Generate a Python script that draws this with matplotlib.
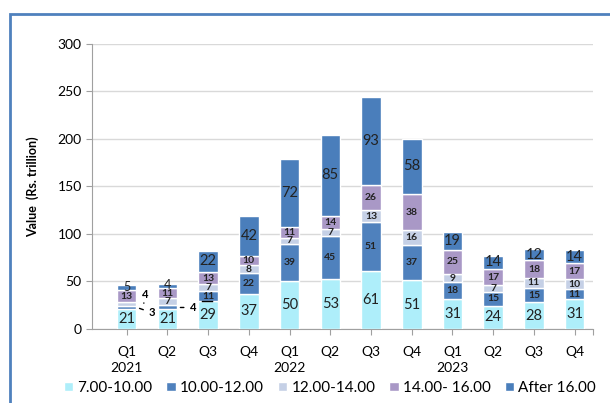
import numpy as np
import matplotlib.pyplot as plt
from matplotlib.patches import Rectangle

plt.rcParams['font.family'] = ['Lato', 'DejaVu Sans']

quarters = ['Q1', 'Q2', 'Q3', 'Q4'] * 3
years = ['2021', '2022', '2023']

# valores por faixa de taxa (Rs. trillion)
r7_10 = [21, 21, 29, 37, 50, 53, 61, 51, 31, 24, 28, 31]
r10_12 = [3, 4, 11, 22, 39, 45, 51, 37, 18, 15, 15, 11]
r12_14 = [4, 7, 7, 8, 7, 7, 13, 16, 9, 7, 11, 10]
r14_16 = [13, 11, 13, 10, 11, 14, 26, 38, 25, 17, 18, 17]
after16 = [5, 4, 22, 42, 72, 85, 93, 58, 19, 14, 12, 14]

series = [r7_10, r10_12, r12_14, r14_16, after16]
names = ['7.00-10.00', '10.00-12.00', '12.00-14.00', '14.00- 16.00', 'After 16.00']
cores = ['#aeeefa', '#4f81bd', '#c5d0e6', '#a998c6', '#4a7ebb']
# rótulos grandes (normal) ou pequenos (negrito)
grande = [True, False, False, False, True]

fig = plt.figure(figsize=(6.1, 4.03), dpi=100)
ax = fig.add_axes([0.151, 0.184, 0.821, 0.707])

x = np.arange(len(quarters))
base = np.zeros(len(quarters))
for vals, nome, cor, g in zip(series, names, cores, grande):
    vals = np.array(vals, dtype=float)
    ax.bar(x, vals, 0.48, bottom=base, color=cor, edgecolor='white',
           linewidth=1.0, label=nome, zorder=3)
    for i, v in enumerate(vals):
        if v < 5 and not (g and i < 2):
            continue  # segmentos muito finos levam rótulo externo
        if g:
            fs = 10.5 if v >= 8 else 9
            ax.text(x[i], base[i] + v / 2 + (1 if v < 8 else 0), '%d' % v,
                    ha='center', va='center', fontsize=fs, color='#222222', zorder=4)
        else:
            ax.text(x[i], base[i] + v / 2, '%d' % v, ha='center', va='center',
                    fontsize=7.5, fontweight='bold', color='#222222', zorder=4)
    base += vals

# rótulos externos dos segmentos pequenos
lkw = dict(arrowstyle='-', color='black', lw=1.0)
ax.annotate('3', xy=(0.25, 22.5), xytext=(0.62, 17), fontsize=8, fontweight='bold',
            ha='center', va='center', arrowprops=lkw, zorder=5)
ax.annotate('4', xy=(0.42, 27), xytext=(0.46, 36), fontsize=8, fontweight='bold',
            ha='center', va='center', arrowprops=lkw, zorder=5)
ax.annotate('4', xy=(1.25, 22.5), xytext=(1.62, 22.5), fontsize=8, fontweight='bold',
            ha='center', va='center', arrowprops=lkw, zorder=5)
ax.plot([1.85, 2.1], [29, 29], color='black', lw=1.0, zorder=5)

ax.set_xlim(-0.85, 11.45)
ax.set_ylim(0, 300)
ax.set_yticks(np.arange(0, 301, 50))
ax.yaxis.grid(True, color='#d9d9d9', lw=1.0, zorder=0)
ax.set_xticks(list(x) + [11.45])
ax.set_xticklabels(quarters + [''])
ax.tick_params(axis='x', length=4, color='#a0a0a0', labelsize=10, pad=8)
ax.tick_params(axis='y', length=4, color='#a0a0a0', labelsize=10, direction='out')
for s in ['top', 'right']:
    ax.spines[s].set_visible(False)
ax.spines['left'].set_color('#a0a0a0')
ax.spines['bottom'].set_color('#a0a0a0')
ax.set_ylabel('Value  (Rs. trillion)', fontsize=9, fontweight='bold', labelpad=4)
ax.yaxis.set_label_coords(-0.105, 0.5)

for k, ano in enumerate(years):
    ax.text(4 * k, -41, ano, ha='center', va='center', fontsize=10,
            transform=ax.transData, clip_on=False)

ax.legend(loc='center', bbox_to_anchor=(0.475, -0.207), ncol=5, frameon=False,
          fontsize=11, handlelength=0.6, handleheight=0.6, handletextpad=0.3,
          columnspacing=0.9, borderaxespad=0)

# moldura azul da figura
fig.patches.append(Rectangle((0.017, -0.1), 1.1, 1.065, transform=fig.transFigure,
                             fill=False, edgecolor='#4f81bd', lw=2, figure=fig))

fig.savefig('out.png', dpi=100)
